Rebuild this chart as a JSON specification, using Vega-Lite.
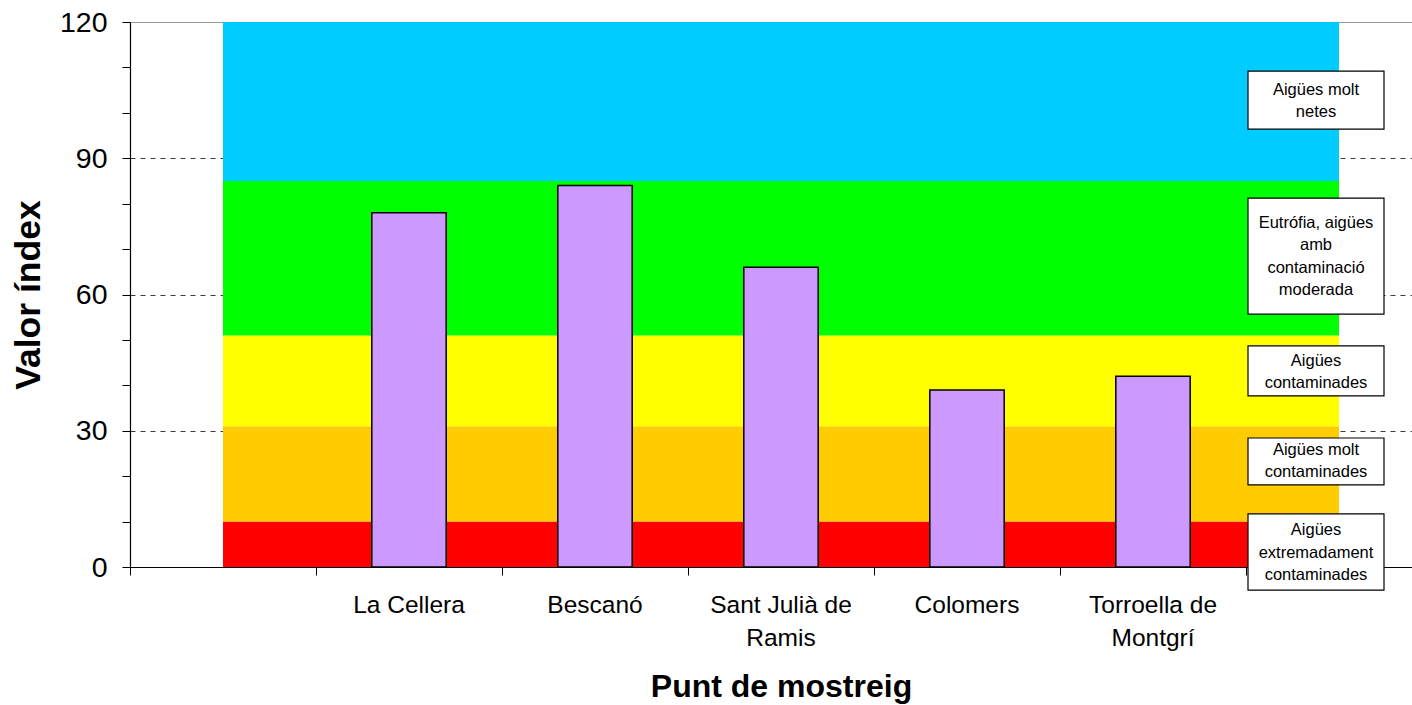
{
  "$schema": "https://vega.github.io/schema/vega-lite/v6.json",
  "width": 1282,
  "height": 545,
  "autosize": {"type": "none"},
  "padding": {"left": 130, "top": 22, "right": 0, "bottom": 138},
  "background": "white",
  "datasets": {
    "franges": [
      {"punt": "inici", "franja": "a", "baix": 0, "dalt": 10},
      {"punt": "final", "franja": "a", "baix": 0, "dalt": 10},
      {"punt": "inici", "franja": "b", "baix": 10, "dalt": 31},
      {"punt": "final", "franja": "b", "baix": 10, "dalt": 31},
      {"punt": "inici", "franja": "c", "baix": 31, "dalt": 51},
      {"punt": "final", "franja": "c", "baix": 31, "dalt": 51},
      {"punt": "inici", "franja": "d", "baix": 51, "dalt": 85},
      {"punt": "final", "franja": "d", "baix": 51, "dalt": 85},
      {"punt": "inici", "franja": "e", "baix": 85, "dalt": 120},
      {"punt": "final", "franja": "e", "baix": 85, "dalt": 120}
    ],
    "punts": [
      {"punt": "La Cellera", "valor": 78},
      {"punt": "Bescanó", "valor": 84},
      {"punt": "Sant Julià de Ramis", "valor": 66},
      {"punt": "Colomers", "valor": 39},
      {"punt": "Torroella de Montgrí", "valor": 42}
    ],
    "rotuls": [
      {"punt": "final", "text": "Aigües molt|netes", "baix": 96.4, "dalt": 109.2, "linia1": 105.0},
      {"punt": "final", "text": "Eutrófia, aigües|amb|contaminació|moderada", "baix": 55.7, "dalt": 81.2, "linia1": 75.7},
      {"punt": "final", "text": "Aigües|contaminades", "baix": 37.7, "dalt": 48.7, "linia1": 45.4},
      {"punt": "final", "text": "Aigües molt|contaminades", "baix": 18.1, "dalt": 28.4, "linia1": 25.8},
      {"punt": "final", "text": "Aigües|extremadament|contaminades", "baix": -5.1, "dalt": 11.7, "linia1": 8.1}
    ]
  },
  "encoding": {
    "x": {
      "field": "punt",
      "type": "nominal",
      "bandPosition": 0.5,
      "scale": {
        "domain": ["inici", "La Cellera", "Bescanó", "Sant Julià de Ramis", "Colomers", "Torroella de Montgrí", "final"],
        "range": [0, 1302],
        "paddingInner": 0,
        "paddingOuter": 0
      },
      "axis": {
        "title": "Punt de mostreig",
        "bandPosition": 0,
        "labelAngle": 0,
        "labelExpr": "datum.value == 'inici' || datum.value == 'final' ? '' : datum.value == 'Sant Julià de Ramis' ? ['Sant Julià de', 'Ramis'] : datum.value == 'Torroella de Montgrí' ? ['Torroella de', 'Montgrí'] : datum.value",
        "labelFontSize": 24.5,
        "labelLineHeight": 33,
        "labelPadding": 18,
        "titlePadding": 22,
        "grid": false
      }
    }
  },
  "layer": [
    {
      "data": {"name": "franges"},
      "mark": {"type": "area", "opacity": 1},
      "encoding": {
        "y": {
          "field": "baix",
          "type": "quantitative",
          "scale": {"domain": [0, 120], "nice": false},
          "axis": {
            "title": "Valor índex",
            "values": [0, 10, 20, 30, 40, 50, 60, 70, 80, 90, 100, 110, 120],
            "labelExpr": "datum.value % 30 === 0 ? datum.label : ''",
            "labelFontSize": 28.5,
            "labelPadding": 15,
            "titleFontSize": 35.5,
            "titlePadding": 13,
            "grid": true,
            "gridDash": {"condition": {"test": "datum.value === 120", "value": []}, "value": [5, 5]},
            "gridColor": {"condition": {"test": "datum.value === 120", "value": "#999999"}, "value": "#3c3c3c"},
            "gridOpacity": {"condition": {"test": "datum.value % 30 === 0 && datum.value > 0", "value": 1}, "value": 0}
          }
        },
        "y2": {"field": "dalt"},
        "color": {
          "field": "franja",
          "type": "nominal",
          "scale": {
            "domain": ["a", "b", "c", "d", "e"],
            "range": ["#FF0000", "#FFCC00", "#FFFF00", "#00FF00", "#00CCFF"]
          },
          "legend": null
        }
      }
    },
    {
      "data": {"name": "punts"},
      "mark": {"type": "bar", "width": {"band": 0.4}, "fill": "#CC99FF", "stroke": "black", "strokeWidth": 1.5},
      "encoding": {
        "y": {"field": "valor", "type": "quantitative"}
      }
    },
    {
      "data": {"name": "rotuls"},
      "mark": {"type": "bar", "width": 136, "xOffset": -23, "fill": "white", "stroke": "black", "strokeWidth": 1.2},
      "encoding": {
        "y": {"field": "baix", "type": "quantitative"},
        "y2": {"field": "dalt"}
      }
    },
    {
      "data": {"name": "rotuls"},
      "mark": {"type": "text", "fontSize": 16.5, "lineBreak": "|", "lineHeight": 22.3, "xOffset": -23, "baseline": "middle", "align": "center", "color": "black"},
      "encoding": {
        "y": {"field": "linia1", "type": "quantitative"},
        "text": {"field": "text"}
      }
    }
  ],
  "config": {
    "font": "Liberation Sans",
    "view": {"stroke": null},
    "axis": {
      "domainColor": "black",
      "domainWidth": 1.2,
      "tickColor": "black",
      "tickSize": 8,
      "labelColor": "black",
      "titleColor": "black",
      "titleFontWeight": "bold",
      "titleFontSize": 32
    }
  }
}
